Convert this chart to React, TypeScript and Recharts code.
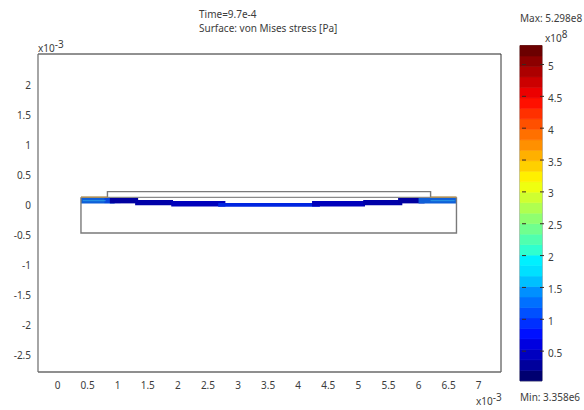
import React from "react";
import { ComposedChart, BarChart, Bar, Area, Line, XAxis, YAxis, ReferenceArea, ReferenceLine } from "recharts";

const FONT = "'Noto Sans', sans-serif";
const TEXT = "#3c3c3c";

const xTicks = [0, 0.5, 1, 1.5, 2, 2.5, 3, 3.5, 4, 4.5, 5, 5.5, 6, 6.5, 7];
const yTicks = [-2.5, -2, -1.5, -1, -0.5, 0, 0.5, 1, 1.5, 2];
const barTicks = [0.5, 1, 1.5, 2, 2.5, 3, 3.5, 4, 4.5, 5];

const substrateOutline = [
  { x: 0.39, y: 0.135 }, { x: 0.39, y: -0.457 }, { x: 6.63, y: -0.457 }, { x: 6.63, y: 0.135 },
];
const layerTopLine = [{ x: 0.39, y: 0.135 }, { x: 6.63, y: 0.135 }];
const upperOutline = [
  { x: 0.83, y: 0.135 }, { x: 0.83, y: 0.23 }, { x: 6.2, y: 0.23 }, { x: 6.2, y: 0.135 },
];
const capLeft = [{ x: 0.39, y: 0.14 }, { x: 0.83, y: 0.14 }];
const capRight = [{ x: 6.2, y: 0.14 }, { x: 6.63, y: 0.14 }];
const streakLeft = [{ x: 0.42, y: 0.08 }, { x: 0.8, y: 0.08 }];
const streakRight = [{ x: 6.2, y: 0.08 }, { x: 6.6, y: 0.08 }];

const bandFrom = [0.39, 0.78, 0.87, 1.29, 1.89, 2.67, 4.23, 5.08, 5.66, 6.0];
const bandTo = [0.95, 1.05, 1.34, 1.92, 2.79, 4.36, 5.11, 5.73, 6.1, 6.63];
const bandHigh = [0.125, 0.125, 0.125, 0.09, 0.075, 0.04, 0.075, 0.09, 0.125, 0.125];
const bandLow = [0.035, 0.04, 0.035, 0.005, -0.015, -0.02, -0.015, 0.005, 0.035, 0.035];
const bandFill = ["#0f5fd8", "#0a46dc", "#0000a0", "#0000a8", "#0000bc", "#0024e0", "#0000bc", "#0000a8", "#0000a0", "#0f5fd8"];

const colourSteps = [
  0.1982, 0.1645, 0.1645, 0.1645, 0.1645, 0.1645, 0.1645, 0.1645,
  0.1645, 0.1645, 0.1645, 0.1645, 0.1645, 0.1645, 0.1645, 0.1645,
  0.1645, 0.1645, 0.1645, 0.1645, 0.1645, 0.1645, 0.1645, 0.1645,
  0.1645, 0.1645, 0.1645, 0.1645, 0.1645, 0.1645, 0.1645, 0.1645,
];
const colourBands = [
  "#000070", "#00009c", "#0000c0", "#0000e0", "#0010ff", "#0030ff", "#0050ff", "#0070ff",
  "#0090ff", "#00c0ff", "#00e0ff", "#00f0ff", "#30ffcf", "#50ffaf", "#70ff8f", "#8fff70",
  "#afff50", "#cfff30", "#efff10", "#fff000", "#ffd000", "#ffb000", "#ff9000", "#ff7000",
  "#ff5000", "#ff3000", "#ff1000", "#ec0000", "#cc0000", "#ac0000", "#8c0000", "#6c0000",
];
const barMin = 0.03358;
const barMax = 5.298;

const barRow: Record<string, number | string> = { name: "stress", base: barMin };
colourSteps.forEach((v, i) => { barRow[`b${i}`] = i === 0 ? v - barMin : v; });
const barTable = [barRow];

const ColourTick = (props: any) => {
  const { x, y, payload } = props;
  return (
    <g>
      <line x1={x - 22} x2={x - 18} y1={y} y2={y} stroke="#3a2a20" strokeWidth={1} />
      <line x1={x - 4} x2={x} y1={y} y2={y} stroke="#3a2a20" strokeWidth={1} />
      <text x={x + 4} y={y + 5.5} fontFamily={FONT} fontSize={10} fill={TEXT}>{payload.value}</text>
    </g>
  );
};

const layer: React.CSSProperties = { position: "absolute", left: 0, top: 0 };

export default function App() {
  const tickStyle = { fontFamily: FONT, fontSize: 10, fill: TEXT };
  return (
    <div style={{ position: "absolute", left: 0, top: 0, width: 584, height: 410, background: "#fff" }}>
      <div style={layer}>
        <ComposedChart width={584} height={410} margin={{ top: 54, right: 83, bottom: 0, left: 0 }}>
          <XAxis
            type="number" dataKey="x" domain={[-0.324, 7.37]} ticks={xTicks} height={38}
            tickLine={false} tickMargin={4} tick={tickStyle} interval={0}
            axisLine={{ stroke: "#6a6a6a", strokeWidth: 1.4 }}
          />
          <YAxis
            type="number" domain={[-2.77, 2.52]} ticks={yTicks} width={38}
            tickLine={false} tickMargin={1} tick={tickStyle} interval={0}
            axisLine={{ stroke: "#6a6a6a", strokeWidth: 1.2 }}
          />
          <ReferenceLine y={2.52} stroke="#222" strokeWidth={1} ifOverflow="visible" />
          <ReferenceLine x={7.37} stroke="#333" strokeWidth={1} ifOverflow="visible" />
          {bandFill.map((fill, i) => (
            <Area
              key={i} type="linear" isAnimationActive={false} dataKey="band" stroke="none" fill={fill}
              fillOpacity={1} dot={false} activeDot={false}
              data={[
                { x: bandFrom[i], band: [bandLow[i], bandHigh[i]] },
                { x: bandTo[i], band: [bandLow[i], bandHigh[i]] },
              ]}
            />
          ))}
          <Line data={streakLeft} dataKey="y" isAnimationActive={false} dot={false} activeDot={false} stroke="#2fa8e8" strokeWidth={0.8} />
          <Line data={streakRight} dataKey="y" isAnimationActive={false} dot={false} activeDot={false} stroke="#2fa8e8" strokeWidth={0.8} />
          <Line data={substrateOutline} dataKey="y" isAnimationActive={false} dot={false} activeDot={false} stroke="#7a7a7a" strokeWidth={1.4} />
          <Line data={layerTopLine} dataKey="y" isAnimationActive={false} dot={false} activeDot={false} stroke="#8a8a8a" strokeWidth={1.2} />
          <Line data={upperOutline} dataKey="y" isAnimationActive={false} dot={false} activeDot={false} stroke="#7a7a7a" strokeWidth={1.4} />
          <Line data={capLeft} dataKey="y" isAnimationActive={false} dot={false} activeDot={false} stroke="#b89048" strokeWidth={1.2} />
          <Line data={capRight} dataKey="y" isAnimationActive={false} dot={false} activeDot={false} stroke="#b89048" strokeWidth={1.2} />
        </ComposedChart>
      </div>
      <div style={layer}>
        <BarChart
          width={584} height={410} data={barTable} barCategoryGap={0}
          margin={{ top: 45.5, right: 0, bottom: 27, left: 520 }}
        >
          <XAxis dataKey="name" hide />
          <YAxis
            orientation="right" type="number" domain={[0, barMax]} ticks={barTicks} width={42}
            axisLine={false} tickLine={false} tickSize={0} tick={<ColourTick />} interval={0}
          />
          <Bar dataKey="base" stackId="s" fill="none" isAnimationActive={false} />
          {colourBands.map((c, i) => (
            <Bar key={c} dataKey={`b${i}`} stackId="s" fill={c} stroke={c} strokeWidth={0.6} isAnimationActive={false} />
          ))}
          <ReferenceArea y1={barMin} y2={barMax} fill="none" stroke="#777" strokeWidth={1} />
        </BarChart>
      </div>
      <svg width={584} height={410} style={{ ...layer, pointerEvents: "none" }} fontFamily={FONT} fontSize={10} fill={TEXT}>
        <text x={199} y={18}>Time=9.7e-4</text>
        <text x={199} y={32}>Surface: von Mises stress [Pa]</text>
        <text x={520} y={22}>Max: 5.298e8</text>
        <text x={545} y={42}>x10<tspan dy={-4} fontSize={10}>8</tspan></text>
        <text x={38} y={52}>x10<tspan dy={-4} fontSize={10}>-3</tspan></text>
        <text x={476} y={405}>x10<tspan dy={-4} fontSize={10}>-3</tspan></text>
        <text x={520} y={401}>Min: 3.358e6</text>
      </svg>
    </div>
  );
}
